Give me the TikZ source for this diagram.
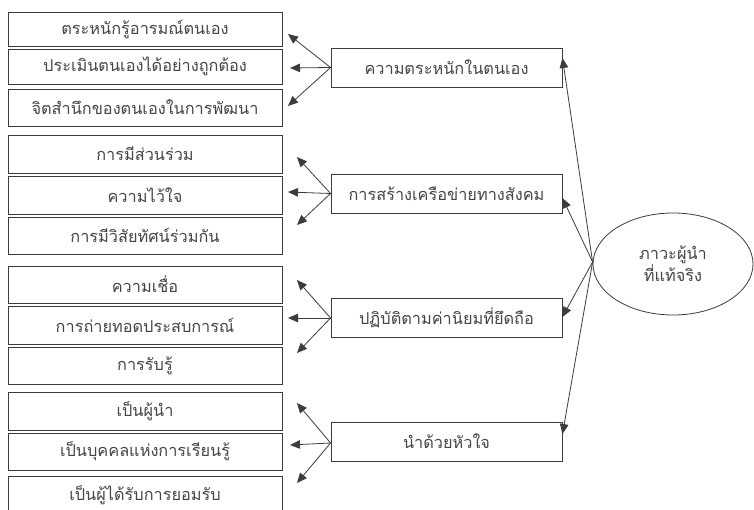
\documentclass[tikz,border=0pt]{standalone}
\usepackage{fontspec}
\newfontfamily\thaifont[Script=Thai]{Loma}
\usetikzlibrary{arrows.meta,shapes.geometric,calc}
\definecolor{ink}{HTML}{3C3C3C}
\definecolor{txt}{HTML}{454545}
\tikzset{
  itembox/.style={draw=ink, line width=0.9pt, minimum width=274pt, inner sep=0pt,
    font=\thaifont\fontsize{16.3}{18}\selectfont, text=txt},
  mainbox/.style={draw=ink, line width=0.9pt, minimum width=231pt, minimum height=39pt, inner sep=0pt,
    font=\thaifont\fontsize{16.3}{18}\selectfont, text=txt},
  link/.style={draw=ink, line width=0.8pt, -{Triangle[length=10pt,width=8.5pt]}},
}
\begin{document}
\begin{tikzpicture}[x=1pt,y=-1pt]
\useasboundingbox (0,0) rectangle (754,510);
\clip (0,0) rectangle (754,510);
\fill[white] (0,0) rectangle (754,510);

% left column: three items per group
\node[itembox, minimum height=34pt] (a1) at (145,29)    {ตระหนักรู้อารมณ์ตนเอง};
\node[itembox, minimum height=35pt] (a2) at (145,66.5)  {ประเมินตนเองได้อย่างถูกต้อง};
\node[itembox, minimum height=37pt] (a3) at (145,107.5) {จิตสำนึกของตนเองในการพัฒนา};

\node[itembox, minimum height=38pt] (b1) at (145,154)   {การมีส่วนร่วม};
\node[itembox, minimum height=38pt] (b2) at (145,195)   {ความไว้ใจ};
\node[itembox, minimum height=37pt] (b3) at (145,235.5) {การมีวิสัยทัศน์ร่วมกัน};

\node[itembox, minimum height=37pt] (c1) at (145,284.5) {ความเชื่อ};
\node[itembox, minimum height=38pt] (c2) at (145,325)   {การถ่ายทอดประสบการณ์};
\node[itembox, minimum height=37pt] (c3) at (145,365.5) {การรับรู้};

\node[itembox, minimum height=38pt] (d1) at (145,411)   {เป็นผู้นำ};
\node[itembox, minimum height=37pt] (d2) at (145,451.5) {เป็นบุคคลแห่งการเรียนรู้};
\node[itembox, minimum height=38pt] (d3) at (145,495)   {เป็นผู้ได้รับการยอมรับ};

% middle column: the four components
\node[mainbox] (m1) at (446.5,67.5)  {ความตระหนักในตนเอง};
\node[mainbox] (m2) at (446.5,193.5) {การสร้างเครือข่ายทางสังคม};
\node[mainbox] (m3) at (446.5,318)   {ปฏิบัติตามค่านิยมที่ยึดถือ};
\node[mainbox] (m4) at (446.5,441.5) {นำด้วยหัวใจ};

% core concept
\node[draw=ink, line width=0.8pt, ellipse, minimum width=160pt, minimum height=102pt,
      inner sep=0pt, align=center, text=txt,
      font=\thaifont\fontsize{16.3}{22}\selectfont] (core) at (673,264)
      {ภาวะผู้นำ\\ที่แท้จริง};

% arrow ends beside the left boxes
\coordinate (ta1) at (288,34);  \coordinate (ta2) at (290,68);  \coordinate (ta3) at (288,106);
\coordinate (tb1) at (297,157); \coordinate (tb2) at (288,192); \coordinate (tb3) at (297,225);
\coordinate (tc1) at (297,280); \coordinate (tc2) at (288,318); \coordinate (tc3) at (297,353);
\coordinate (td1) at (297,403); \coordinate (td2) at (290,445); \coordinate (td3) at (297,483);

\draw[link] (m1.west) -- (ta1);
\draw[link] (m1.west) -- (ta2);
\draw[link] (m1.west) -- (ta3);
\draw[link] (m2.west) -- (tb1);
\draw[link] (m2.west) -- (tb2);
\draw[link] (m2.west) -- (tb3);
\draw[link] (m3.west) -- (tc1);
\draw[link] (m3.west) -- (tc2);
\draw[link] (m3.west) -- (tc3);
\draw[link] ($(m4.west)+(0,1.5)$) -- (td1);
\draw[link] ($(m4.west)+(0,1.5)$) -- (td2);
\draw[link] ($(m4.west)+(0,1.5)$) -- (td3);

% from the core concept to each component
\coordinate (hub) at ($(core.west)+(0,-2)$);
\draw[link] (hub) -- ($(m1.east)+(0,-9.5)$);
\draw[link] (hub) -- ($(m2.east)+(0,4.5)$);
\draw[link] (hub) -- ($(m3.east)+(0,-1)$);
\draw[link] (hub) -- ($(m4.east)+(0,-7.5)$);
\end{tikzpicture}
\end{document}
